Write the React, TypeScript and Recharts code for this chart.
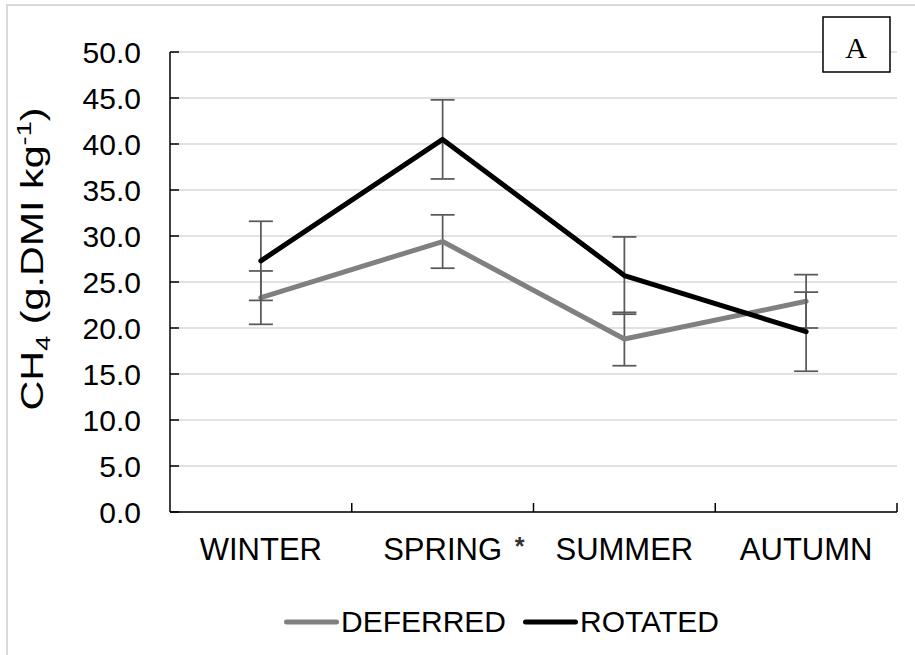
import React from "react";
import {
    LineChart,
    Line,
    XAxis,
    YAxis,
    CartesianGrid,
    ErrorBar,
    Legend,
    Customized,
} from "recharts";

const seasons = ["WINTER", "SPRING", "SUMMER", "AUTUMN"];
const deferred = [23.3, 29.4, 18.8, 22.9];
const deferredSe = [2.9, 2.9, 2.9, 2.9];
const rotated = [27.3, 40.5, 25.7, 19.6];
const rotatedSe = [4.3, 4.3, 4.2, 4.3];
const yTicks = [0, 5, 10, 15, 20, 25, 30, 35, 40, 45, 50];

const SERIES = [
    { key: "deferred", name: "DEFERRED", color: "#808080" },
    { key: "rotated", name: "ROTATED", color: "#000000" },
];

const data = seasons.map((season, i) => ({
    season,
    deferred: deferred[i],
    deferredSe: deferredSe[i],
    rotated: rotated[i],
    rotatedSe: rotatedSe[i],
}));

const W = 915;
const H = 655;
const MARGIN = { top: 52, right: 18, bottom: 83, left: 0 };
const Y_AXIS_W = 170;
const PLOT_W = W - MARGIN.left - MARGIN.right - Y_AXIS_W;
const STEP = PLOT_W / seasons.length;
const FONT = "'Liberation Sans', Arial, sans-serif";

function SeasonTick({ x, y, payload }: any) {
    const edge = x + STEP / 2;
    return (
        <g>
            <line x1={edge} y1={y} x2={edge} y2={y - 9} stroke="#000" strokeWidth={1.5} />
            <text x={x} y={y + 48} textAnchor="middle" fontFamily={FONT} fontSize={31} fill="#000">
                {payload.value}
            </text>
            {payload.value === "SPRING" && (
                <text x={x + 72} y={y + 43} fontFamily={FONT} fontSize={25} fontWeight="bold" fill="#333">
                    *
                </text>
            )}
        </g>
    );
}

function ValueTick({ x, y, payload }: any) {
    return (
        <g>
            <line x1={x} y1={y} x2={x + 9} y2={y} stroke="#000" strokeWidth={1.5} />
            <text x={x - 29} y={y + 11} textAnchor="end" fontFamily={FONT} fontSize={30} fill="#000">
                {payload.value.toFixed(1)}
            </text>
        </g>
    );
}

// axis title is drawn wide: glyphs stretched along the text to 303px
function YTitle({ viewBox }: any) {
    const cx = viewBox.x + 43;
    const cy = viewBox.y + viewBox.height / 2 - 23;
    return (
        <text
            transform={`translate(${cx},${cy}) rotate(-90)`}
            textAnchor="middle"
            fontFamily={FONT}
            fontSize={32}
            fill="#000"
            textLength={303}
            lengthAdjust="spacingAndGlyphs"
        >
            CH
            <tspan dy={7} fontSize={21}>4</tspan>
            <tspan dy={-7}> (g.DMI kg</tspan>
            <tspan dy={-12} fontSize={21}>-1</tspan>
            <tspan dy={12}>)</tspan>
        </text>
    );
}

// panel letter in the top-right corner
function PanelTag() {
    return (
        <g>
            <rect x={823} y={17} width={67} height={55} fill="#fff" stroke="#000" strokeWidth={1.5} />
            <text x={856} y={58} textAnchor="middle" fontFamily="'Liberation Serif', 'Times New Roman', serif" fontSize={30} fill="#000">
                A
            </text>
        </g>
    );
}

function renderLegend() {
    return (
        <div style={{ display: "flex", alignItems: "center", fontFamily: FONT, fontSize: 30, color: "#000", whiteSpace: "nowrap" }}>
            {SERIES.map(s => (
                <div key={s.key} style={{ display: "flex", alignItems: "center", marginRight: 17 }}>
                    <svg width={55} height={10}>
                        <line x1={2.5} y1={5} x2={52.5} y2={5} stroke={s.color} strokeWidth={5} strokeLinecap="round" />
                    </svg>
                    <span style={{ marginLeft: 2 }}>{s.name}</span>
                </div>
            ))}
        </div>
    );
}

export default function App() {
    return (
        <div style={{ position: "absolute", left: 0, top: 0, width: W, height: H, overflow: "hidden", background: "#fff" }}>
            <div
                style={{
                    position: "absolute",
                    left: 6,
                    top: 4,
                    width: 1000,
                    height: 1000,
                    border: "2px solid #d9d9d9",
                }}
            />
            <LineChart width={W} height={H} data={data} margin={MARGIN} style={{ position: "absolute", left: 0, top: 0 }}>
                <CartesianGrid vertical={false} stroke="#d9d9d9" strokeWidth={1.5} />
                <XAxis
                    dataKey="season"
                    padding={{ left: STEP / 2, right: STEP / 2 }}
                    axisLine={{ stroke: "#000", strokeWidth: 1.5 }}
                    tickLine={false}
                    tickSize={0}
                    tickMargin={0}
                    height={60}
                    interval={0}
                    tick={<SeasonTick />}
                />
                <YAxis
                    domain={[0, 50]}
                    ticks={yTicks}
                    width={Y_AXIS_W}
                    axisLine={{ stroke: "#000", strokeWidth: 1.5 }}
                    tickLine={false}
                    tickSize={0}
                    tickMargin={0}
                    interval={0}
                    tick={<ValueTick />}
                    label={{ content: (props: any) => <YTitle {...props} /> }}
                />
                <Line
                    dataKey="deferred"
                    name="DEFERRED"
                    stroke="#808080"
                    strokeWidth={5}
                    strokeLinejoin="round"
                    strokeLinecap="round"
                    dot={false}
                    activeDot={false}
                    isAnimationActive={false}
                >
                    <ErrorBar dataKey="deferredSe" direction="y" width={12} stroke="#595959" strokeWidth={1.75} isAnimationActive={false} />
                </Line>
                <Line
                    dataKey="rotated"
                    name="ROTATED"
                    stroke="#000"
                    strokeWidth={5}
                    strokeLinejoin="round"
                    strokeLinecap="round"
                    dot={false}
                    activeDot={false}
                    isAnimationActive={false}
                >
                    <ErrorBar dataKey="rotatedSe" direction="y" width={12} stroke="#595959" strokeWidth={1.75} isAnimationActive={false} />
                </Line>
                <Legend
                    layout="horizontal"
                    verticalAlign="middle"
                    align="center"
                    content={renderLegend}
                    wrapperStyle={{ left: 284, top: 605, width: "auto" }}
                />
                <Customized component={PanelTag} />
            </LineChart>
        </div>
    );
}
